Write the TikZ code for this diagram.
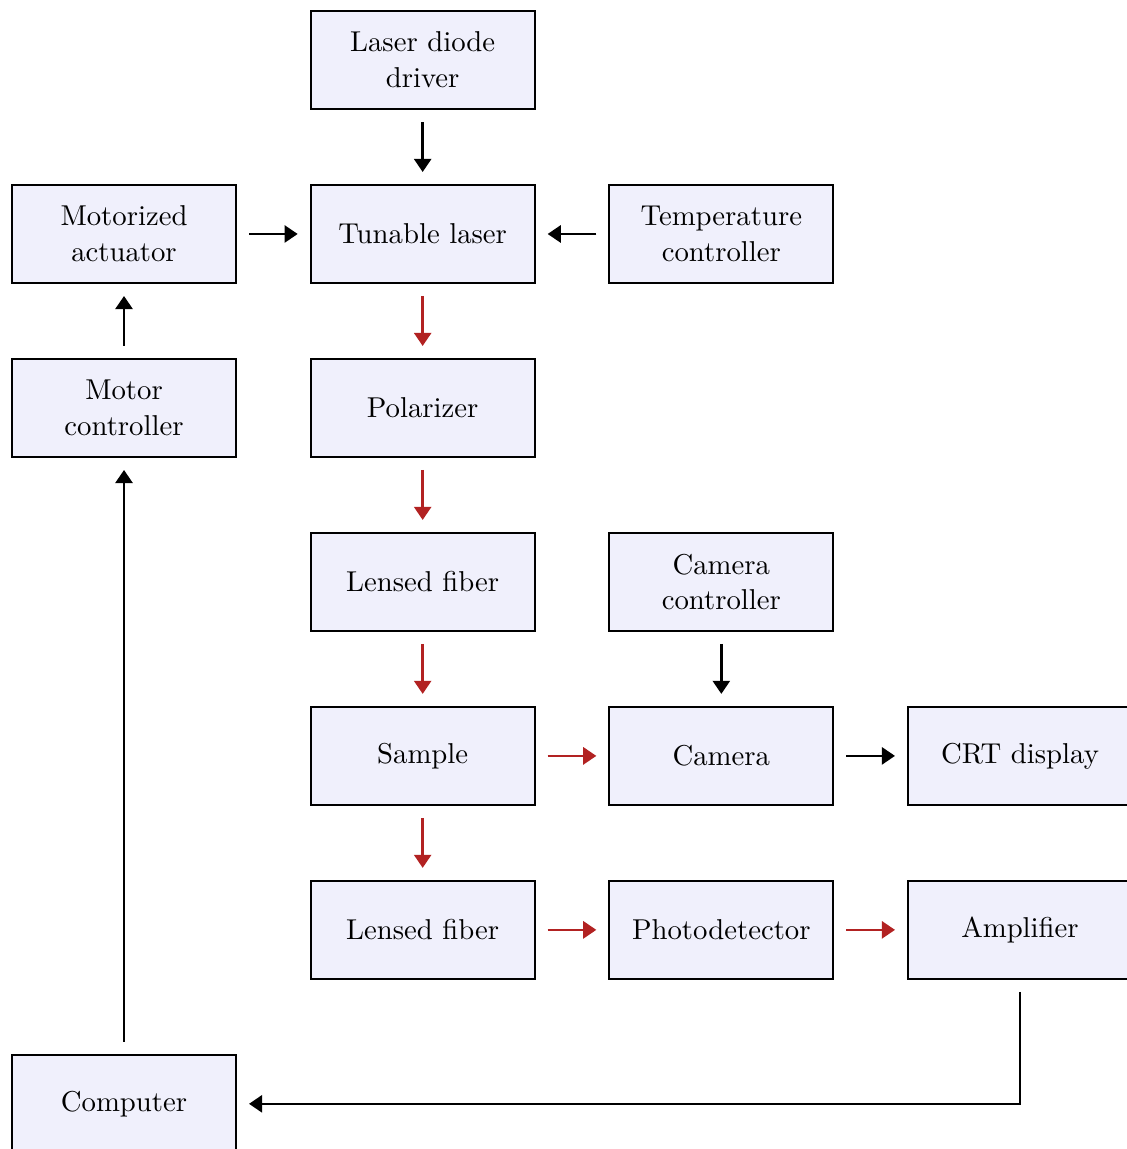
\documentclass[tikz,border=0pt]{standalone}
\usepackage{xcolor}
\definecolor{Red}{RGB}{178,34,34}
\definecolor{Black}{RGB}{0,0,0}
\definecolor{Lavender}{RGB}{240,240,252}
\usetikzlibrary{arrows.meta}

\tikzset{
	block/.style={draw=Black, fill=Lavender, thick, minimum width=3cm, minimum height=1.3125cm, align=center, inner sep=2pt, font=\fontsize{10.95}{13.6}\selectfont},
	wire/.style={-{Triangle[length=5pt, width=6.5pt]}, draw=Black, line width=1pt, shorten <=0.16cm, shorten >=0.16cm},
	beam/.style={wire, draw=Red, color=Red}
}

\begin{document}
\begin{tikzpicture}

		\useasboundingbox (-1.661,0.804) rectangle (13.42,-14.585);

		% Blocks
		\node[block] (driver) at (4,0) {Laser diode\\driver};
		
		\node[block] (actuator) at (0,-2.33) {Motorized\\actuator};
		\node[block] (laser) at (4,-2.33) {Tunable laser};
		\node[block] (tempctrl) at (8,-2.33) {Temperature\\controller};
		
		\node[block] (motorctrl) at (0,-4.66) {Motor\\controller};
		\node[block] (polarizer) at (4,-4.66) {Polarizer};
		
		\node[block] (fiberin) at (4,-6.99) {Lensed fiber};
		\node[block] (camctrl) at (8,-6.99) {Camera\\controller};
		
		\node[block] (sample) at (4,-9.32) {Sample};
		\node[block] (camera) at (8,-9.32) {Camera};
		\node[block] (crt) at (12,-9.32) {CRT display};
		
		\node[block] (fiberout) at (4,-11.65) {Lensed fiber};
		\node[block] (detector) at (8,-11.65) {Photodetector};
		\node[block] (amplifier) at (12,-11.65) {Amplifier};
		
		\node[block] (computer) at (0,-13.98) {Computer};
		
		% Control lines
		\draw[wire] (driver) -- (laser);
		\draw[wire] (actuator) -- (laser);
		\draw[wire] (tempctrl) -- (laser);
		\draw[wire] (motorctrl) -- (actuator);
		\draw[wire] (camctrl) -- (camera);
		\draw[wire] (camera) -- (crt);
		\draw[wire] (amplifier.south) |- (computer.east);
		\draw[wire] (computer) -- (motorctrl);
		
		% Optical path
		\draw[beam] (laser) -- (polarizer);
		\draw[beam] (polarizer) -- (fiberin);
		\draw[beam] (fiberin) -- (sample);
		\draw[beam] (sample) -- (camera);
		\draw[beam] (sample) -- (fiberout);
		\draw[beam] (fiberout) -- (detector);
		\draw[beam] (detector) -- (amplifier);

	\end{tikzpicture}
\end{document}
